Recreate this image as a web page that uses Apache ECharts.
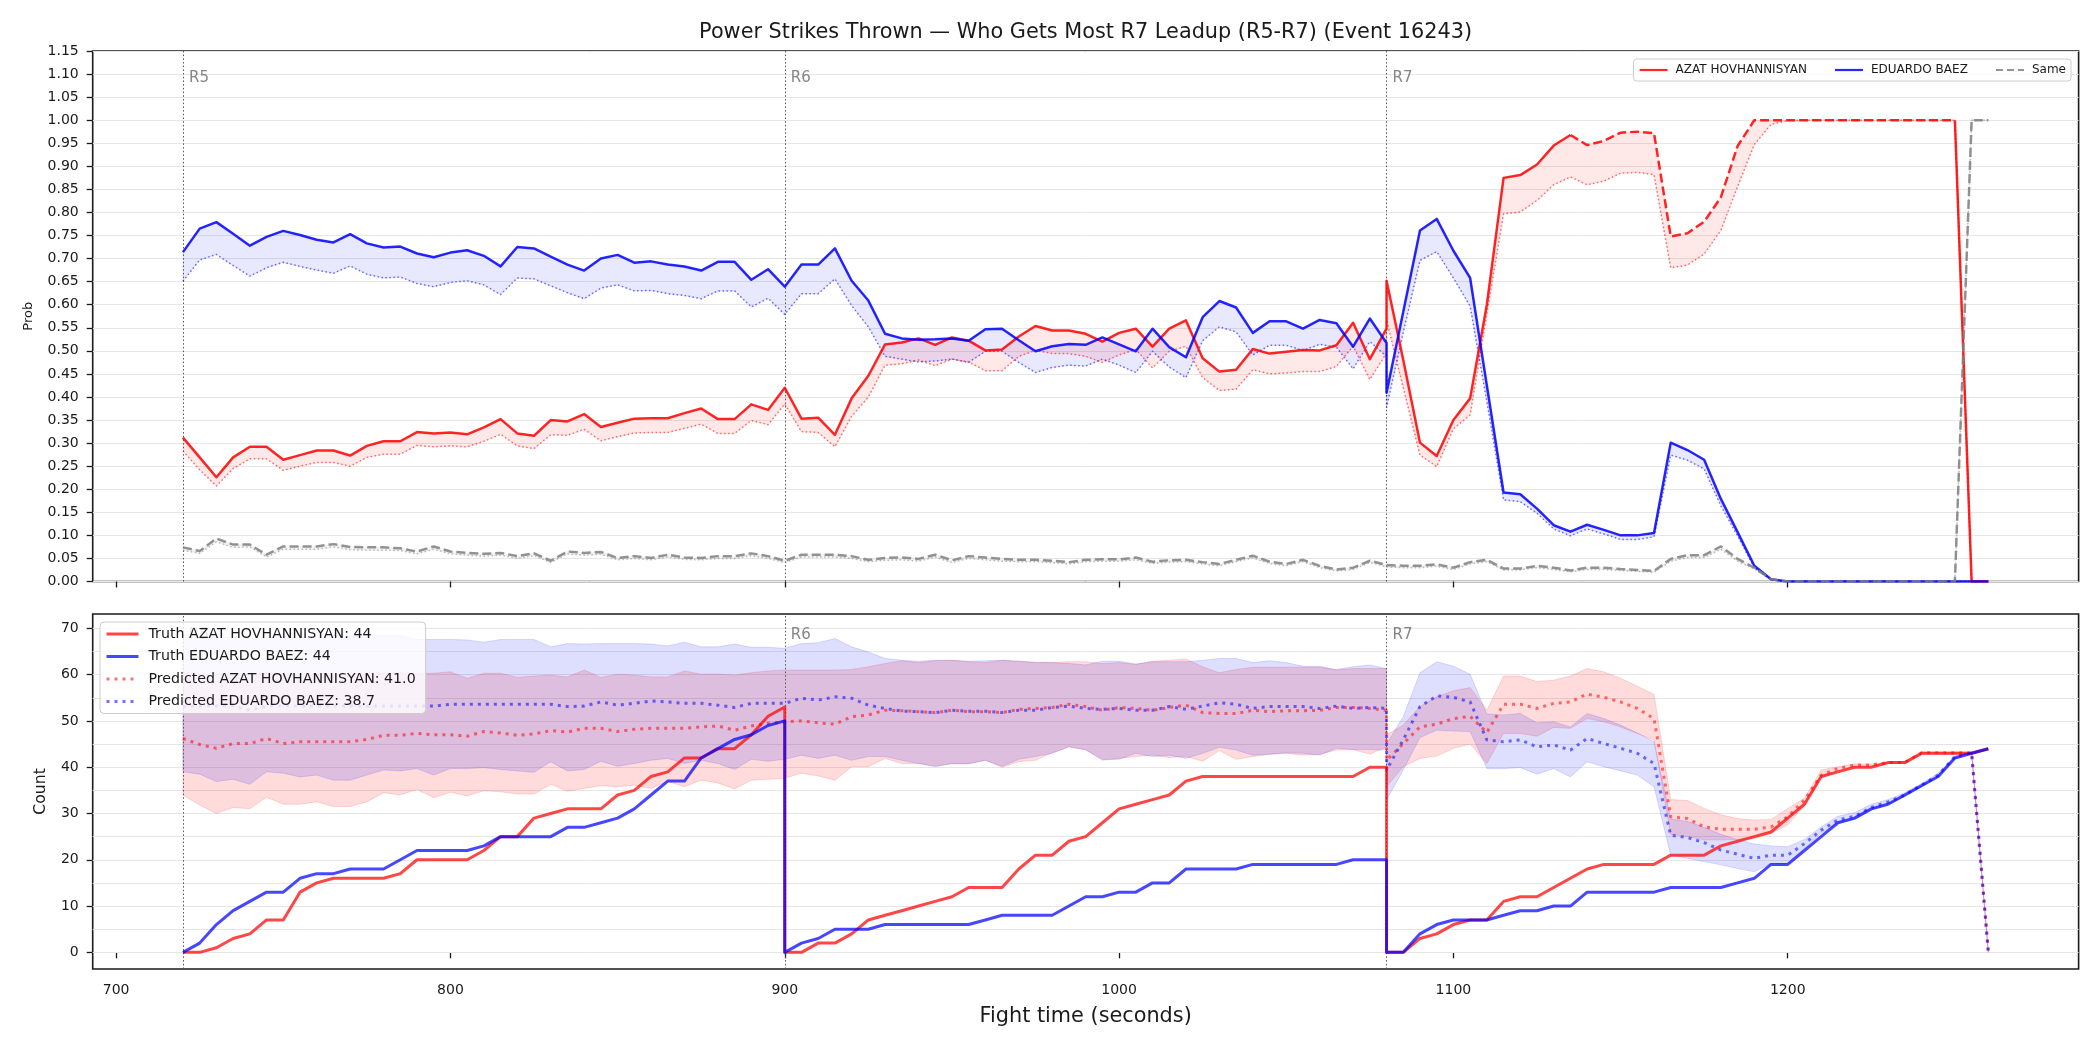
<!DOCTYPE html>
<html><head><meta charset="utf-8">
<script src="https://cdn.jsdelivr.net/npm/echarts@6/dist/echarts.min.js"></script>
<style>html,body{margin:0;padding:0;background:#fff}#c{width:2100px;height:1050px}</style>
</head><body><div id="c"></div>
<script>
// ---------------- DATA ----------------
const FIGHTER_A = 'AZAT HOVHANNISYAN';
const FIGHTER_B = 'EDUARDO BAEZ';
const SAME_LABEL = 'Same';
const TRUTH_TOTALS = [44, 44];
const PRED_TOTALS = ['41.0', '38.7'];
const TITLE = 'Power Strikes Thrown \u2014 Who Gets Most R7 Leadup (R5-R7) (Event 16243)';
const ROUND_STARTS = [720, 900, 1080];
const ROUND_NAMES = ['R5', 'R6', 'R7'];
const X_TICKS = [700, 800, 900, 1000, 1100, 1200];
const COUNT_TICKS = [0, 10, 20, 30, 40, 50, 60, 70];
const COUNT_GRID = [0, 5, 10, 15, 20, 25, 30, 35, 40, 45, 50, 55, 60, 65, 70];
const DASH_FROM = 1135, DASH_TO = 1250;

const TIME_R5 = [720,725,730,735,740,745,750,755,760,765,770,775,780,785,790,795,800,805,810,815,820,825,830,835,840,845,850,855,860,865,870,875,880,885,890,895,900];
const TIME_R6 = [900,905,910,915,920,925,930,935,940,945,950,955,960,965,970,975,980,985,990,995,1000,1005,1010,1015,1020,1025,1030,1035,1040,1045,1050,1055,1060,1065,1070,1075,1080];
const TIME_R7 = [1080,1085,1090,1095,1100,1105,1110,1115,1120,1125,1130,1135,1140,1145,1150,1155,1160,1165,1170,1175,1180,1185,1190,1195,1200,1205,1210,1215,1220,1225,1230,1235,1240,1245,1250,1255,1260];

// Top panel: probabilities
const probA_R5 = [0.312,0.269,0.226,0.269,0.292,0.292,0.264,0.274,0.284,0.284,0.273,0.294,0.304,0.304,0.324,0.321,0.323,0.319,0.334,0.352,0.321,0.316,0.350,0.347,0.363,0.335,0.344,0.353,0.354,0.354,0.365,0.375,0.352,0.352,0.384,0.372,0.420];
const probA_R6 = [0.420,0.353,0.355,0.318,0.397,0.446,0.514,0.518,0.527,0.513,0.529,0.522,0.501,0.503,0.531,0.554,0.544,0.544,0.537,0.520,0.539,0.548,0.509,0.548,0.566,0.484,0.455,0.459,0.504,0.494,0.498,0.502,0.501,0.512,0.561,0.482,0.548];
const probA_R7 = [0.652,0.480,0.301,0.272,0.350,0.397,0.600,0.875,0.881,0.904,0.945,0.968,0.946,0.955,0.973,0.975,0.972,0.748,0.755,0.780,0.833,0.944,1.000,1.000,1.000,1.000,1.000,1.000,1.000,1.000,1.000,1.000,1.000,1.000,1.000,0.000,0.000];

const probALo_R5 = [0.283,0.242,0.207,0.245,0.266,0.266,0.241,0.250,0.258,0.258,0.250,0.269,0.276,0.276,0.295,0.292,0.294,0.292,0.304,0.319,0.294,0.288,0.318,0.317,0.330,0.305,0.314,0.322,0.323,0.323,0.332,0.341,0.321,0.321,0.349,0.340,0.385];
const probALo_R6 = [0.385,0.325,0.323,0.292,0.358,0.400,0.469,0.472,0.480,0.468,0.482,0.476,0.457,0.457,0.488,0.501,0.494,0.494,0.488,0.475,0.491,0.503,0.463,0.499,0.510,0.442,0.414,0.417,0.459,0.450,0.452,0.455,0.455,0.466,0.510,0.438,0.495];
const probALo_R7 = [0.567,0.420,0.274,0.249,0.331,0.361,0.580,0.797,0.801,0.826,0.860,0.877,0.860,0.868,0.885,0.887,0.882,0.680,0.686,0.710,0.761,0.856,0.947,0.991,0.999,1.000,1.000,1.000,1.000,1.000,1.000,1.000,1.000,1.000,1.000,0.000,0.000];

const probB_R5 = [0.714,0.765,0.779,0.754,0.728,0.747,0.760,0.751,0.741,0.735,0.753,0.733,0.724,0.726,0.711,0.703,0.713,0.718,0.706,0.683,0.725,0.722,0.704,0.687,0.674,0.700,0.708,0.691,0.694,0.687,0.683,0.674,0.693,0.693,0.654,0.677,0.639];
const probB_R6 = [0.639,0.687,0.687,0.722,0.652,0.609,0.537,0.527,0.524,0.525,0.527,0.522,0.547,0.548,0.523,0.499,0.510,0.515,0.513,0.529,0.514,0.499,0.548,0.508,0.486,0.573,0.608,0.594,0.539,0.564,0.564,0.548,0.567,0.560,0.509,0.570,0.517];
const probB_R7 = [0.409,0.585,0.761,0.786,0.717,0.658,0.425,0.193,0.189,0.158,0.122,0.108,0.123,0.112,0.100,0.100,0.105,0.301,0.285,0.264,0.179,0.107,0.034,0.005,0,0,0,0,0,0,0,0,0,0,0,0,0];

const probBLo_R5 = [0.651,0.697,0.709,0.685,0.662,0.680,0.692,0.683,0.675,0.668,0.684,0.666,0.658,0.660,0.646,0.639,0.648,0.652,0.643,0.622,0.658,0.656,0.641,0.626,0.613,0.636,0.643,0.630,0.631,0.624,0.620,0.613,0.630,0.630,0.595,0.614,0.579];
const probBLo_R6 = [0.579,0.624,0.624,0.656,0.598,0.552,0.488,0.482,0.476,0.478,0.482,0.475,0.499,0.499,0.475,0.453,0.464,0.469,0.467,0.482,0.469,0.453,0.499,0.465,0.442,0.522,0.552,0.541,0.491,0.512,0.512,0.501,0.514,0.508,0.461,0.520,0.488];
const probBLo_R7 = [0.377,0.540,0.696,0.715,0.658,0.597,0.390,0.177,0.173,0.148,0.114,0.099,0.114,0.103,0.091,0.091,0.097,0.274,0.263,0.244,0.164,0.099,0.030,0.004,0,0,0,0,0,0,0,0,0,0,0,0,0];

const probSame_R5 = [0.074,0.066,0.093,0.080,0.080,0.058,0.076,0.076,0.076,0.081,0.075,0.074,0.074,0.072,0.065,0.076,0.065,0.062,0.060,0.062,0.055,0.061,0.045,0.065,0.062,0.064,0.051,0.055,0.051,0.058,0.052,0.051,0.055,0.055,0.061,0.055,0.045];
const probSame_R6 = [0.045,0.058,0.058,0.058,0.055,0.047,0.051,0.052,0.049,0.058,0.046,0.055,0.052,0.049,0.047,0.047,0.045,0.042,0.047,0.048,0.048,0.052,0.043,0.046,0.047,0.042,0.038,0.047,0.056,0.043,0.038,0.047,0.034,0.026,0.030,0.045,0.036];
const probSame_R7 = [0.034,0.034,0.034,0.037,0.030,0.042,0.047,0.028,0.028,0.034,0.030,0.024,0.030,0.030,0.027,0.025,0.023,0.049,0.057,0.057,0.076,0.049,0.030,0.005,0,0,0,0,0,0,0,0,0,0,0,1.0,1.0];

const probSameLo_R5 = [0.068,0.061,0.086,0.074,0.075,0.053,0.070,0.070,0.070,0.075,0.069,0.068,0.068,0.067,0.060,0.070,0.060,0.057,0.055,0.057,0.050,0.056,0.041,0.060,0.057,0.059,0.047,0.050,0.047,0.053,0.048,0.047,0.050,0.050,0.056,0.050,0.041];
const probSameLo_R6 = [0.041,0.053,0.053,0.053,0.050,0.043,0.046,0.047,0.044,0.053,0.041,0.050,0.047,0.044,0.043,0.043,0.041,0.038,0.043,0.044,0.044,0.047,0.039,0.042,0.043,0.038,0.034,0.043,0.051,0.039,0.034,0.043,0.030,0.023,0.026,0.041,0.032];
const probSameLo_R7 = [0.030,0.030,0.030,0.033,0.026,0.038,0.043,0.025,0.025,0.030,0.026,0.021,0.026,0.026,0.024,0.022,0.020,0.044,0.052,0.052,0.070,0.044,0.027,0.004,0,0,0,0,0,0,0,0,0,0,0,1.0,1.0];

// Bottom panel: counts
const truthA_R5 = [0,0,1,3,4,7,7,13,15,16,16,16,16,17,20,20,20,20,22,25,25,29,30,31,31,31,34,35,38,39,42,42,44,44,47,51,53];
const truthA_R6 = [0,0,2,2,4,7,8,9,10,11,12,14,14,14,18,21,21,24,25,28,31,32,33,34,37,38,38,38,38,38,38,38,38,38,38,40,40];
const truthA_R7 = [0,0,3,4,6,7,7,11,12,12,14,16,18,19,19,19,19,21,21,21,23,24,25,26,29,32,38,39,40,40,41,41,43,43,43,43,44];

const truthB_R5 = [0,2,6,9,11,13,13,16,17,17,18,18,18,20,22,22,22,22,23,25,25,25,25,27,27,28,29,31,34,37,37,42,44,46,47,49,50];
const truthB_R6 = [0,2,3,5,5,5,6,6,6,6,6,6,7,8,8,8,8,10,12,12,13,13,15,15,18,18,18,18,19,19,19,19,19,19,20,20,20];
const truthB_R7 = [0,0,4,6,7,7,7,8,9,9,10,10,13,13,13,13,13,14,14,14,14,15,16,19,19,22,25,28,29,31,32,34,36,38,42,43,44];

const predA_R5 = [46.2,44.9,44.1,45.1,45.1,46.2,45.1,45.5,45.5,45.5,45.5,46.0,46.9,46.9,47.3,47.0,47.0,46.7,47.7,47.4,46.9,47.2,47.9,47.6,48.4,48.4,47.7,48.2,48.4,48.4,48.4,48.7,48.9,48.0,48.9,49.5,49.8];
const predA_R6 = [50.0,50.0,49.6,49.3,50.9,51.3,52.3,52.2,52.0,51.8,52.3,52.0,52.0,51.8,52.5,52.7,52.9,53.6,53.1,52.3,52.9,52.7,52.3,52.9,53.4,51.8,51.6,51.6,52.3,52.0,52.2,52.2,52.3,52.9,52.9,52.7,52.3];
const predA_R7 = [41.5,45.1,48.7,49.3,50.5,51.0,47.5,53.6,53.6,52.7,53.8,54.1,55.8,55.1,54.1,52.7,50.5,29.3,28.9,27.1,26.6,26.6,26.6,27.1,29.3,32.9,38.3,39.7,40.5,40.5,41.0,41.0,43.1,43.1,43.1,43.1,0];

const predB_R5 = [53.1,53.2,53.2,53.2,52.3,53.2,53.2,53.2,53.2,53.2,53.2,53.2,53.2,53.2,53.2,53.2,53.6,53.6,53.6,53.6,53.6,53.6,53.6,53.1,53.2,54.1,53.4,53.8,54.3,54.1,53.8,53.8,53.4,52.9,53.8,53.8,53.8];
const predB_R6 = [53.8,54.9,54.5,55.2,54.9,53.4,52.7,52.1,52.0,51.8,52.3,52.1,52.1,51.8,52.3,52.3,52.9,53.2,52.7,52.5,52.7,52.3,52.3,53.1,52.5,53.2,53.9,53.6,52.7,53.1,53.1,53.1,52.7,53.2,52.7,52.9,52.7];
const predB_R7 = [39.4,45.9,53.1,55.4,55.1,54.1,45.9,45.5,45.9,44.4,44.8,43.7,46.2,45.1,44.1,43.0,40.8,25.3,24.8,23.7,22.1,21.2,20.3,21.0,21.0,23.5,26.4,28.6,29.4,31.3,32.5,34.0,36.1,38.3,42.3,43.1,0];

const predAHi_R5 = [60.5,60.3,60.0,60.2,60.0,60.5,60.2,60.0,60.3,60.2,60.0,60.3,60.3,60.5,60.3,60.3,60.6,59.2,60.3,60.3,59.4,59.7,59.9,59.5,61.0,59.4,60.1,59.9,59.5,59.5,60.8,60.1,60.1,59.9,60.4,60.8,61.0];
const predAHi_R6 = [61.0,61.0,61.0,61.0,61.1,61.7,62.4,63.0,62.6,63.0,63.1,62.8,62.6,63.1,62.9,62.7,62.6,62.8,62.8,62.4,62.6,62.2,62.9,63.1,63.4,61.7,60.4,61.1,61.6,61.6,61.6,61.6,61.6,61.0,61.3,61.3,61.3];
const predAHi_R7 = [47.0,49.1,53.1,55.2,56.5,57.2,52.3,59.7,59.7,58.5,58.8,59.7,61.3,60.6,59.2,57.5,55.7,33.0,32.8,31.1,29.7,28.9,28.6,28.7,31.1,33.3,39.4,40.1,40.7,40.7,41.2,41.2,43.3,43.3,43.3,43.3,0];

const predALo_R5 = [34.0,31.8,30.0,31.3,31.0,33.5,32.0,32.0,32.5,31.5,31.5,32.5,34.5,34.0,35.2,33.4,34.6,33.8,34.9,34.7,34.2,34.2,36.3,34.8,35.4,36.0,35.8,36.1,35.4,36.9,35.8,37.2,36.6,35.3,37.2,37.4,37.6];
const predALo_R6 = [37.6,38.7,38.1,37.2,40.1,40.1,41.9,40.8,40.8,40.3,40.7,40.8,41.5,40.0,41.2,41.5,43.1,44.4,43.8,41.5,41.9,42.3,42.6,42.1,42.3,41.3,43.6,41.7,42.3,42.8,43.0,42.6,42.8,43.7,43.8,42.8,44.4];
const predALo_R7 = [35.8,40.1,41.9,42.4,44.1,45.0,40.8,47.3,47.3,46.7,48.6,48.4,50.5,49.8,48.7,47.3,45.9,25.5,25.0,24.3,24.3,24.4,24.6,25.7,27.5,31.8,37.6,39.2,40.1,40.1,40.8,40.8,42.8,42.8,42.8,42.8,0];

const predBHi_R5 = [68.0,68.0,68.2,68.0,67.8,68.0,68.2,68.0,68.3,68.5,68.3,68.5,68.5,68.5,67.6,67.6,67.6,67.5,67.0,67.6,67.6,67.6,66.0,66.7,66.6,66.7,66.7,66.7,66.6,66.2,67.0,66.0,66.0,66.6,65.9,65.9,65.7];
const predBHi_R6 = [65.7,66.7,66.9,67.8,66.0,64.9,63.5,63.1,62.9,63.1,63.1,62.9,63.0,63.1,62.9,62.6,62.6,62.4,62.1,62.9,62.9,62.3,62.8,62.8,62.8,63.1,63.5,63.5,62.6,63.0,62.6,61.8,61.8,61.1,61.7,62.1,61.3];
const predBHi_R7 = [45.0,50.9,60.4,62.8,61.8,60.1,51.5,51.3,51.6,49.6,49.8,48.7,51.6,50.5,49.1,47.4,45.5,28.8,28.3,27.0,25.5,24.4,23.4,23.0,22.8,24.4,27.1,29.4,30.2,32.0,33.0,34.5,36.5,38.7,42.4,43.3,0];

const predBLo_R5 = [39.0,38.5,36.9,37.4,36.3,39.0,38.7,37.9,38.3,37.2,37.2,38.3,39.4,39.2,39.7,38.3,39.7,39.7,39.9,39.5,39.2,38.9,41.2,39.2,39.5,41.3,40.2,40.8,41.5,41.9,40.8,41.5,40.8,39.5,41.7,41.3,41.7];
const predBLo_R6 = [41.7,42.6,41.9,42.6,41.5,42.3,42.3,41.5,40.8,40.1,40.8,40.7,41.5,40.2,41.7,42.3,43.0,44.4,43.7,41.7,41.7,43.0,42.3,42.6,41.9,43.0,44.3,43.7,42.6,42.8,43.1,43.0,42.6,44.1,43.8,43.8,43.7];
const predBLo_R7 = [32.9,39.4,46.4,48.0,47.8,47.7,39.7,39.7,39.9,38.5,39.7,37.9,41.2,40.1,39.2,38.3,35.8,21.0,20.3,19.6,18.9,18.1,17.4,19.2,19.2,22.5,25.7,27.9,28.7,30.7,32.0,33.6,35.8,37.9,41.9,43.0,0];

// ---------------- BUILD ----------------
const T_ALL = TIME_R5.concat(TIME_R6, TIME_R7);
const join3 = (a, b, c) => a.concat(b, c);
const toPairs = (vals) => T_ALL.map((t, i) => [t, vals[i]]);
const toBand = (lo, hi) => T_ALL.map((t, i) => [t, lo[i], hi[i]]);

const probA = toPairs(join3(probA_R5, probA_R6, probA_R7));
const probALo = toPairs(join3(probALo_R5, probALo_R6, probALo_R7));
const probB = toPairs(join3(probB_R5, probB_R6, probB_R7));
const probBLo = toPairs(join3(probBLo_R5, probBLo_R6, probBLo_R7));
const probSame = toPairs(join3(probSame_R5, probSame_R6, probSame_R7));
const probSameLo = toPairs(join3(probSameLo_R5, probSameLo_R6, probSameLo_R7));
const bandTopA = toBand(join3(probALo_R5, probALo_R6, probALo_R7), join3(probA_R5, probA_R6, probA_R7));
const bandTopB = toBand(join3(probBLo_R5, probBLo_R6, probBLo_R7), join3(probB_R5, probB_R6, probB_R7));
const bandTopS = toBand(join3(probSameLo_R5, probSameLo_R6, probSameLo_R7), join3(probSame_R5, probSame_R6, probSame_R7));

const probASolid = probA.filter(p => p[0] <= DASH_FROM);
const probADash = probA.filter(p => p[0] >= DASH_FROM && p[0] <= DASH_TO);
const probAEnd = probA.filter(p => p[0] >= DASH_TO);

const truthA = toPairs(join3(truthA_R5, truthA_R6, truthA_R7));
const truthB = toPairs(join3(truthB_R5, truthB_R6, truthB_R7));
const predA = toPairs(join3(predA_R5, predA_R6, predA_R7));
const predB = toPairs(join3(predB_R5, predB_R6, predB_R7));
const bandBotA = toBand(join3(predALo_R5, predALo_R6, predALo_R7), join3(predAHi_R5, predAHi_R6, predAHi_R7));
const bandBotB = toBand(join3(predBLo_R5, predBLo_R6, predBLo_R7), join3(predBHi_R5, predBHi_R6, predBHi_R7));

const NAME_TA = 'Truth ' + FIGHTER_A + ': ' + TRUTH_TOTALS[0];
const NAME_TB = 'Truth ' + FIGHTER_B + ': ' + TRUTH_TOTALS[1];
const NAME_PA = 'Predicted ' + FIGHTER_A + ': ' + PRED_TOTALS[0];
const NAME_PB = 'Predicted ' + FIGHTER_B + ': ' + PRED_TOTALS[1];

// ---------------- STYLE ----------------
const FONT = 'DejaVu Sans';
const INK = '#1a1a1a';
const RED_TOP = 'rgba(255,0,0,0.85)', BLUE_TOP = 'rgba(0,0,255,0.85)';
const RED_TOP_LO = 'rgba(255,0,0,0.55)', BLUE_TOP_LO = 'rgba(0,0,255,0.55)';
const GRAY_TOP = 'rgba(128,128,128,0.85)', GRAY_LO = 'rgba(128,128,128,0.5)';
const RED_FILL_TOP = 'rgba(255,0,0,0.09)', BLUE_FILL_TOP = 'rgba(0,0,255,0.09)', GRAY_FILL_TOP = 'rgba(128,128,128,0.08)';
const RED_TRUTH = 'rgba(255,0,0,0.72)', BLUE_TRUTH = 'rgba(0,0,255,0.72)';
const RED_PRED = 'rgba(255,0,0,0.55)', BLUE_PRED = 'rgba(0,0,255,0.55)';
const RED_FILL = 'rgba(255,0,0,0.14)', BLUE_FILL = 'rgba(0,0,255,0.13)';
const DOT_THIN = [1.5, 2.5], DASH = [9, 4], DOT_THICK = [3, 5];
const NO_SYMBOL = { opacity: 0 };

function lineS(name, gi, data, color, width, type, z) {
  return { type: 'line', name, xAxisIndex: gi, yAxisIndex: gi, data, symbol: 'none', showSymbol: false,
    lineStyle: { color, width, type, cap: 'butt', join: 'round' }, itemStyle: { color },
    z: z || 3, silent: true, animation: false };
}
function bandS(gi, rows, fill, z) {
  return { type: 'custom', xAxisIndex: gi, yAxisIndex: gi, data: rows, encode: { x: 0, y: [1, 2] },
    silent: true, z: z || 2, animation: false, clip: true,
    renderItem: function (params, api) {
      if (params.dataIndex !== 0) return null;
      const up = rows.map(r => api.coord([r[0], r[2]]));
      const dn = rows.map(r => api.coord([r[0], r[1]])).reverse();
      return { type: 'polygon', shape: { points: up.concat(dn) }, style: { fill: fill, stroke: fill, lineWidth: 1 } };
    } };
}
function roundS(gi, yPos) {
  return { type: 'scatter', xAxisIndex: gi, yAxisIndex: gi, symbolSize: 0, silent: true, animation: false, z: 2,
    data: ROUND_STARTS.map((t, i) => ({ value: [t, yPos], name: ROUND_NAMES[i] })),
    label: { show: true, position: 'right', distance: 6, formatter: p => p.name, color: '#666', fontSize: 15, fontFamily: FONT },
    markLine: { silent: true, z: 3, symbol: ['none', 'none'], label: { show: false }, animation: false,
      lineStyle: { color: '#555', width: 1, type: [1.5, 2.2] },
      data: ROUND_STARTS.map(t => ({ xAxis: t })) } };
}

const xCommon = (gi, showLabels) => ({
  type: 'value', gridIndex: gi, min: 693, max: 1287,
  axisLine: { show: false }, splitLine: { show: false },
  axisTick: { show: true, customValues: X_TICKS, length: 6, lineStyle: { color: INK, width: 1.3 } },
  axisLabel: { show: showLabels, customValues: X_TICKS, fontSize: 14, color: INK, margin: 14, fontFamily: FONT,
    formatter: v => String(v) }
});

const option = {
  animation: false,
  backgroundColor: '#ffffff',
  textStyle: { fontFamily: FONT },
  title: { text: TITLE, left: 1085.6, top: 22.5, textAlign: 'center', padding: 0,
    textStyle: { fontSize: 20.8, fontWeight: 'normal', color: INK, fontFamily: FONT } },
  grid: [
    { left: 92.7, top: 51, width: 1985.9, height: 530.5, show: true, borderColor: INK, borderWidth: 1.6, backgroundColor: 'transparent' },
    { left: 92.7, top: 614, width: 1985.9, height: 355, show: true, borderColor: INK, borderWidth: 1.6, backgroundColor: 'transparent' }
  ],
  xAxis: [
    xCommon(0, false),
    Object.assign(xCommon(1, true), { name: 'Fight time (seconds)', nameLocation: 'middle', nameGap: 37,
      nameTextStyle: { fontSize: 20.8, color: INK, fontFamily: FONT } })
  ],
  yAxis: [
    { type: 'value', gridIndex: 0, min: 0, max: 1.15, interval: 0.05,
      axisLine: { show: false },
      axisTick: { show: true, length: 6, lineStyle: { color: INK, width: 1.3 } },
      axisLabel: { fontSize: 14, color: INK, margin: 14, fontFamily: FONT, formatter: v => v.toFixed(2) },
      splitLine: { show: true, lineStyle: { color: '#e6e6e6', width: 1 } },
      name: 'Prob', nameLocation: 'middle', nameGap: 58, nameTextStyle: { fontSize: 13, color: INK, fontFamily: FONT } },
    { type: 'value', gridIndex: 1, min: -3.6, max: 73.1,
      axisLine: { show: false },
      axisTick: { show: true, customValues: COUNT_TICKS, length: 6, lineStyle: { color: INK, width: 1.3 } },
      axisLabel: { customValues: COUNT_TICKS, fontSize: 14, color: INK, margin: 14, fontFamily: FONT },
      splitLine: { show: false },
      name: 'Count', nameLocation: 'middle', nameGap: 44, nameTextStyle: { fontSize: 15.7, color: INK, fontFamily: FONT } }
  ],
  legend: [
    { data: [
        { name: FIGHTER_A, itemStyle: NO_SYMBOL, lineStyle: { width: 2.2, type: 'solid' } },
        { name: FIGHTER_B, itemStyle: NO_SYMBOL, lineStyle: { width: 2.2, type: 'solid' } },
        { name: SAME_LABEL, itemStyle: NO_SYMBOL, lineStyle: { width: 2.2, type: [7, 4] } }],
      right: 29, top: 59, orient: 'horizontal', itemWidth: 28, itemHeight: 12, itemGap: 27, z: 10,
      padding: [5, 5], backgroundColor: 'rgba(255,255,255,0.8)', borderColor: '#cccccc', borderWidth: 1, borderRadius: 3,
      selectedMode: false, textStyle: { fontSize: 12, color: INK, fontFamily: FONT, padding: [0, 0, 0, 3] } },
    { data: [
        { name: NAME_TA, itemStyle: NO_SYMBOL, lineStyle: { width: 3, type: 'solid' } },
        { name: NAME_TB, itemStyle: NO_SYMBOL, lineStyle: { width: 3, type: 'solid' } },
        { name: NAME_PA, itemStyle: NO_SYMBOL, lineStyle: { width: 3, type: DOT_THICK } },
        { name: NAME_PB, itemStyle: NO_SYMBOL, lineStyle: { width: 3, type: DOT_THICK } }],
      left: 100, top: 622, orient: 'vertical', itemWidth: 32, itemHeight: 14, itemGap: 8.5, z: 10,
      padding: [5, 10, 5, 5], backgroundColor: 'rgba(255,255,255,0.82)', borderColor: '#cccccc', borderWidth: 1, borderRadius: 4,
      selectedMode: false, textStyle: { fontSize: 14.2, color: INK, fontFamily: FONT, padding: [0, 0, 0, 5] } }
  ],
  series: [
    // top panel
    bandS(0, bandTopS, GRAY_FILL_TOP),
    bandS(0, bandTopB, BLUE_FILL_TOP),
    bandS(0, bandTopA, RED_FILL_TOP),
    lineS('sameLo', 0, probSameLo, GRAY_LO, 1.5, DOT_THIN),
    lineS('bLo', 0, probBLo, BLUE_TOP_LO, 1.5, DOT_THIN),
    lineS('aLo', 0, probALo, RED_TOP_LO, 1.5, DOT_THIN),
    lineS(FIGHTER_A, 0, probASolid, RED_TOP, 2.5, 'solid'),
    lineS('aDash', 0, probADash, RED_TOP, 2.5, DASH),
    lineS('aEnd', 0, probAEnd, RED_TOP, 2.5, 'solid'),
    lineS(FIGHTER_B, 0, probB, BLUE_TOP, 2.5, 'solid'),
    lineS(SAME_LABEL, 0, probSame, GRAY_TOP, 2.5, DASH),
    roundS(0, 1.091),
    // bottom panel
    { type: 'line', xAxisIndex: 1, yAxisIndex: 1, data: [], silent: true, animation: false, z: 0,
      markLine: { silent: true, z: 1, symbol: ['none', 'none'], label: { show: false }, animation: false,
        lineStyle: { color: '#e6e6e6', width: 1, type: 'solid' },
        data: COUNT_GRID.map(v => ({ yAxis: v })) } },
    bandS(1, bandBotA, RED_FILL),
    bandS(1, bandBotB, BLUE_FILL),
    lineS(NAME_PA, 1, predA, RED_PRED, 3, DOT_THICK),
    lineS(NAME_PB, 1, predB, BLUE_PRED, 3, DOT_THICK),
    lineS(NAME_TA, 1, truthA, RED_TRUTH, 3, 'solid'),
    lineS(NAME_TB, 1, truthB, BLUE_TRUTH, 3, 'solid'),
    roundS(1, 68.6)
  ]
};

const chart = echarts.init(document.getElementById('c'), null, { renderer: 'canvas' });
chart.setOption(option);
</script>
</body></html>
